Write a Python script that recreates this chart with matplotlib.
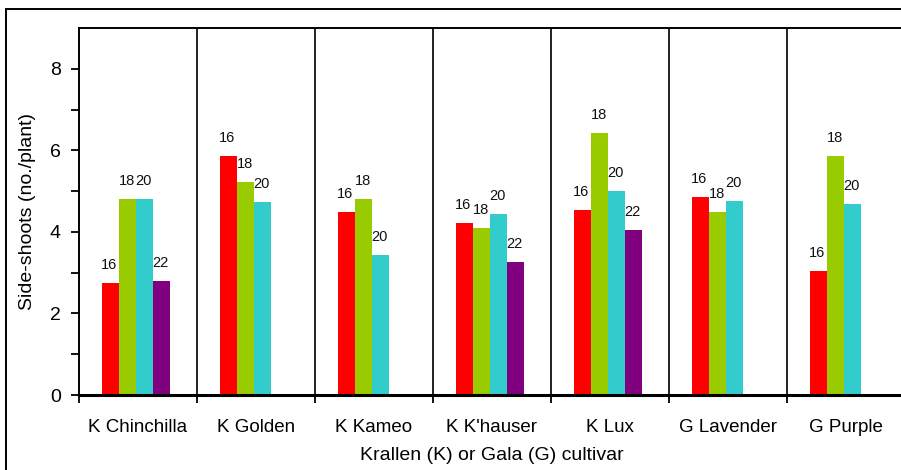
import matplotlib.pyplot as plt
import matplotlib.patches as mpatches
from matplotlib.ticker import FixedLocator, NullFormatter
import numpy as np

plt.rcParams['font.family'] = ['Liberation Sans', 'DejaVu Sans']

cultivars = ['K Chinchilla', 'K Golden', 'K Kameo', "K K'hauser", 'K Lux', 'G Lavender', 'G Purple']
temps = ['16', '18', '20', '22']
# side-shoots per plant at each growing temperature (None = not grown)
t16 = [2.75, 5.87, 4.49, 4.22, 4.54, 4.86, 3.04]
t18 = [4.81, 5.23, 4.81, 4.10, 6.43, 4.49, 5.87]
t20 = [4.81, 4.74, 3.44, 4.44, 5.01, 4.76, 4.69]
t22 = [2.80, None, None, 3.26, 4.05, None, None]
colors = ['#FF0000', '#99CC00', '#33CCCC', '#800080']

fig = plt.figure(figsize=(9.01, 4.70), dpi=100)
ax = fig.add_axes([79 / 901, 1 - 395 / 470, 826 / 901, 367 / 470])

# outer frame round the whole chart
fig.patches.append(mpatches.Rectangle((6 / 901, -0.05), 1.0, 1 - 9 / 470 + 0.05,
                                      transform=fig.transFigure, fill=False,
                                      edgecolor='black', linewidth=1.4, clip_on=False))

bar_w = 17 / 118
first = 23 / 118
for j, series in enumerate([t16, t18, t20, t22]):
    for i, v in enumerate(series):
        if v is None:
            continue
        x = i + first + j * bar_w
        ax.bar(x, v, width=bar_w, align='edge', color=colors[j], linewidth=0)
        ax.annotate(temps[j], (x + bar_w / 2, v), xytext=(-1, 18), textcoords='offset pixels',
                    ha='center', va='center', fontsize=10.5, color='#111111')

# separators between cultivars
for b in range(1, 7):
    ax.axvline(b, color='#222222', linewidth=1.4)

ax.set_xlim(0, 7)
ax.set_ylim(0, 9)
ax.set_yticks([0, 2, 4, 6, 8])
ax.yaxis.set_minor_locator(FixedLocator([1, 3, 5, 7]))
ax.tick_params(axis='y', which='both', direction='out', length=6, width=1.3, labelsize=14, pad=7)

ax.xaxis.set_major_locator(FixedLocator(np.arange(0, 8)))
ax.xaxis.set_major_formatter(NullFormatter())
ax.xaxis.set_minor_locator(FixedLocator(np.arange(7) + 0.5))
ax.set_xticklabels(cultivars, minor=True)
ax.tick_params(axis='x', which='major', direction='out', length=6, width=1.3)
ax.tick_params(axis='x', which='minor', length=0, labelsize=13.5, pad=17)

for side in ['left', 'top']:
    ax.spines[side].set_linewidth(1.4)
ax.spines['bottom'].set_linewidth(2.2)
ax.spines['right'].set_visible(False)

ax.set_ylabel('Side-shoots (no./plant)', fontsize=14, labelpad=10)
ax.set_xlabel('Krallen (K) or Gala (G) cultivar', fontsize=14, labelpad=8)

fig.savefig('out.png', dpi=100)
